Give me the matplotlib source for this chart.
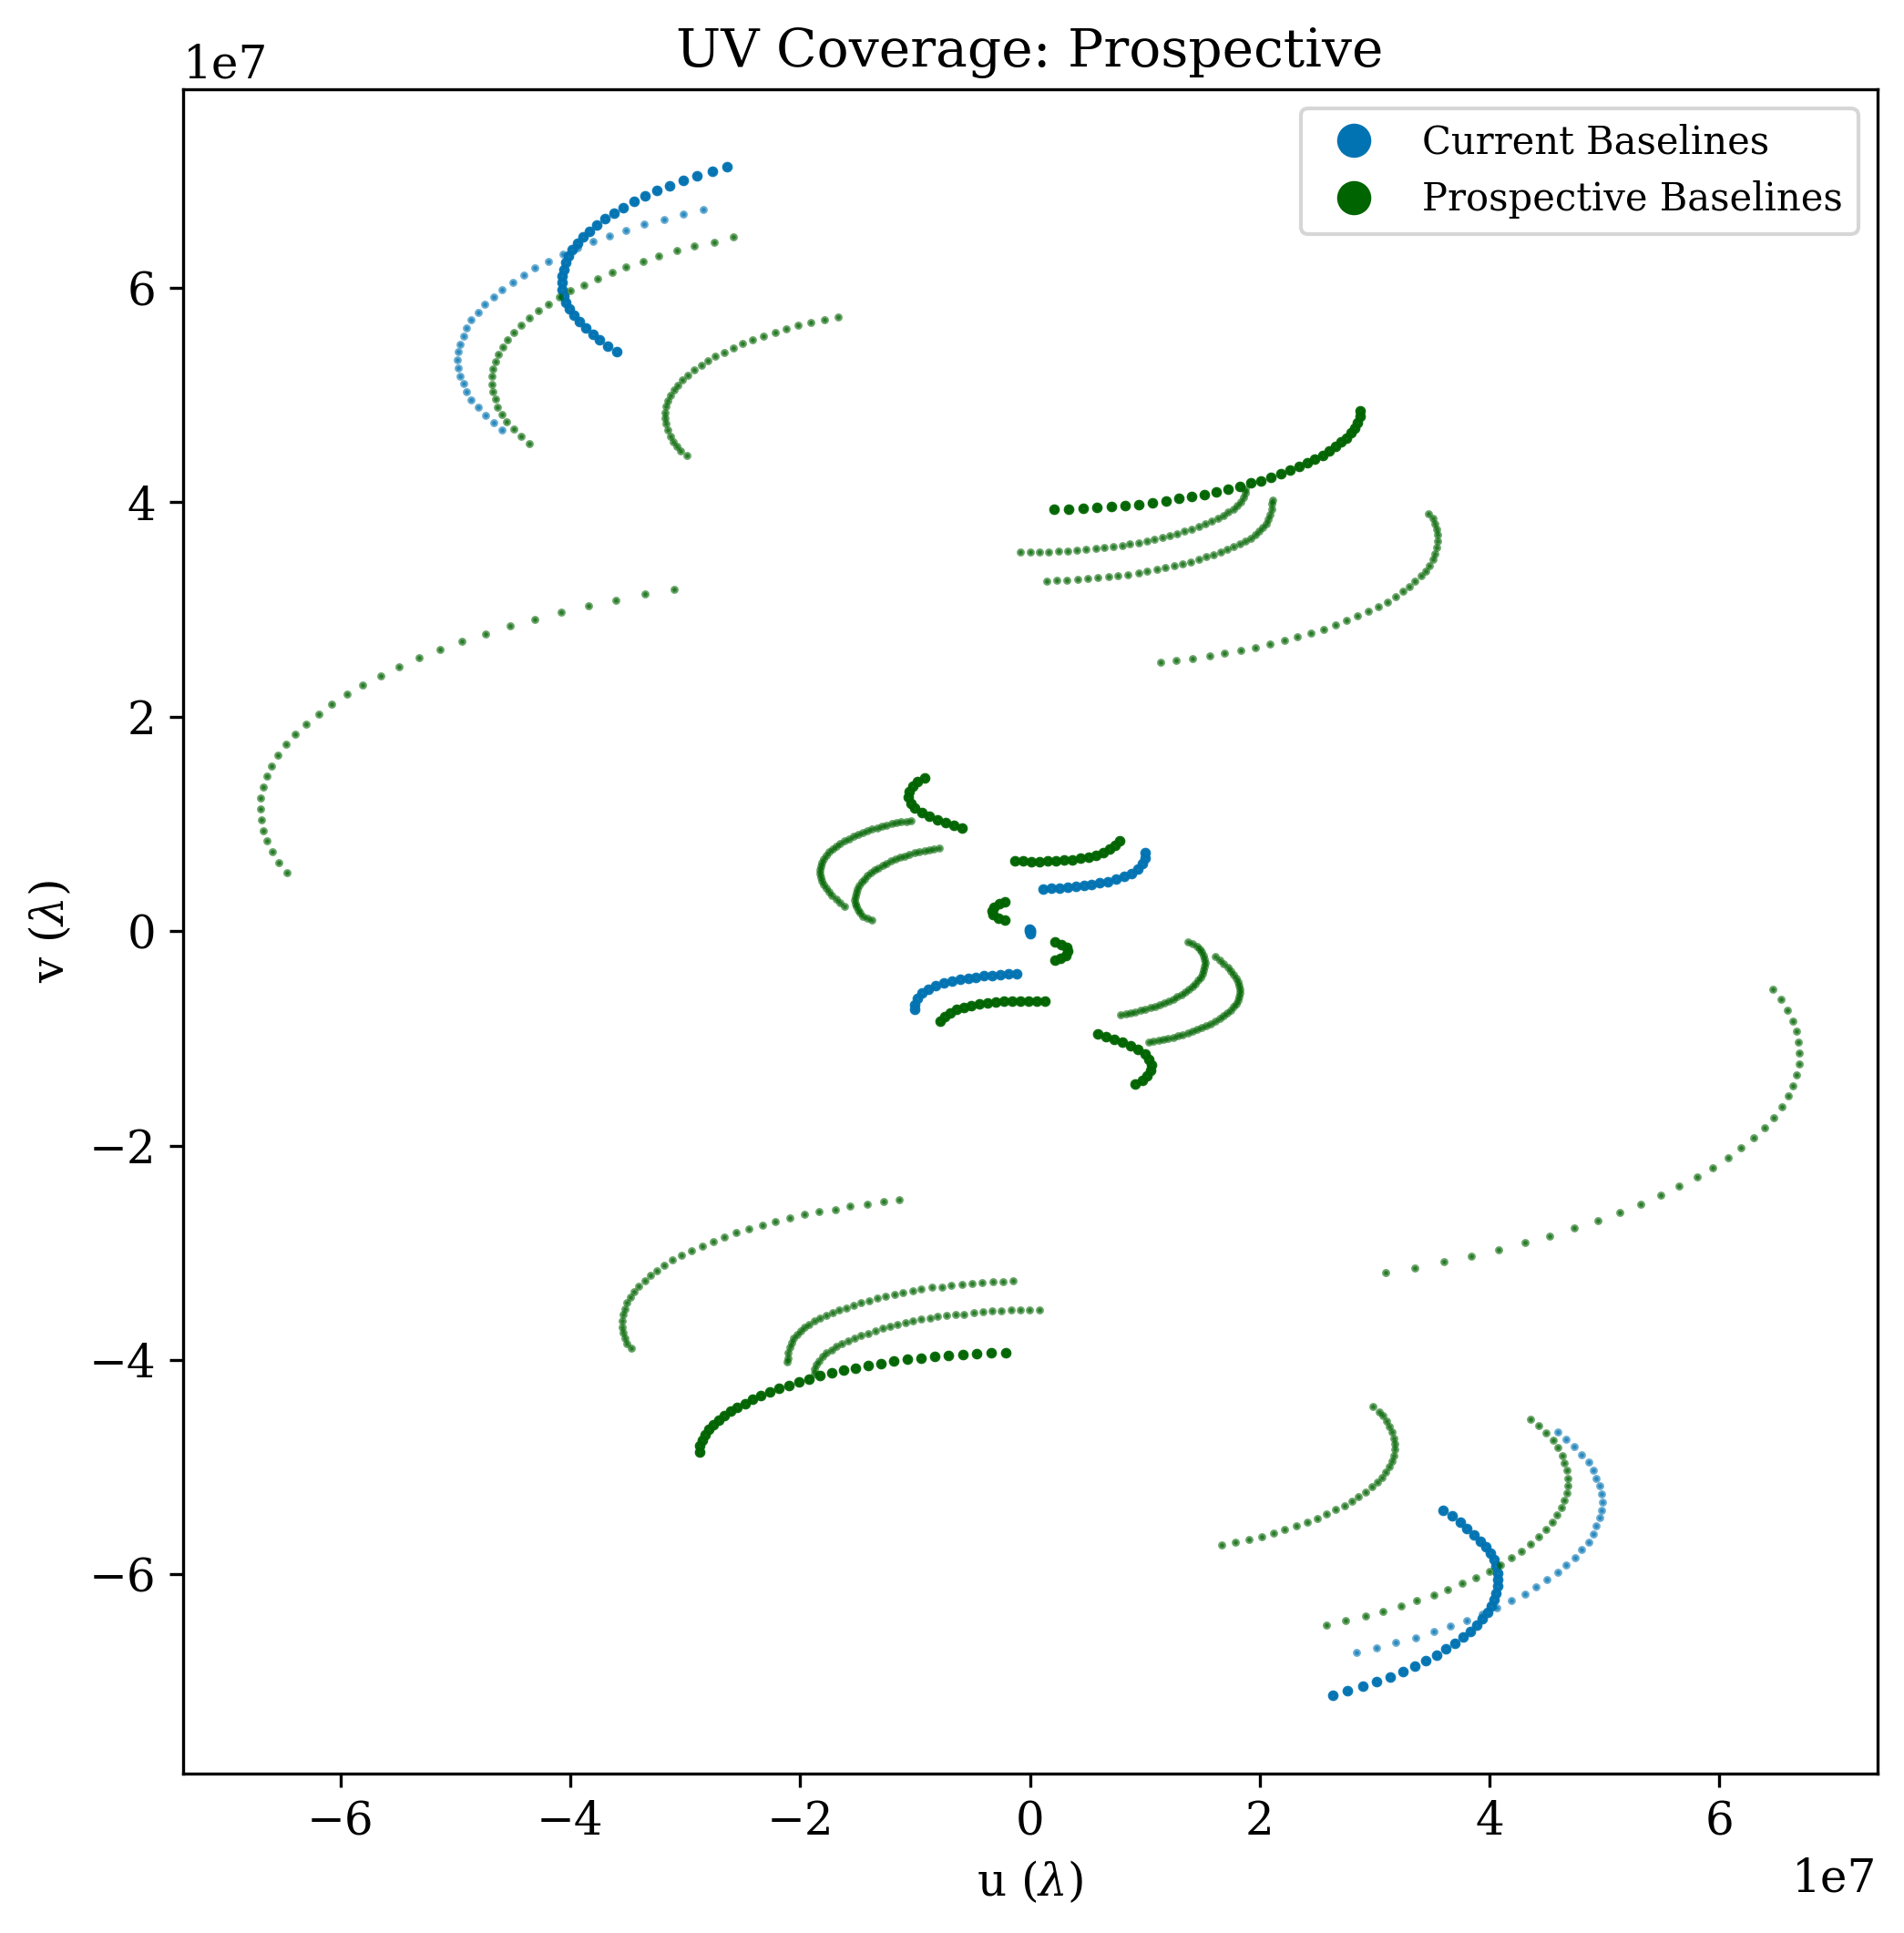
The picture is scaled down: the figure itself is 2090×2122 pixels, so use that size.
import numpy as np
import matplotlib
matplotlib.use("Agg")
import matplotlib.pyplot as plt
from matplotlib.lines import Line2D

# ---- data (u, v in units of 1e7 wavelengths); conjugate points (-u, -v) are also plotted ----
SCALE = 1e7

# Current baselines
cur_a_u = [-2.635, -2.765, -2.895, -3.014, -3.133, -3.243, -3.348, -3.447, -3.538, -3.620, -3.697, -3.770,
           -3.832, -3.889, -3.937, -3.980, -4.016, -4.039, -4.059, -4.070, -4.073, -4.068, -4.056, -4.036,
           -4.005, -3.965, -3.920, -3.866, -3.804, -3.742, -3.671, -3.592]
cur_a_v = [7.127, 7.085, 7.042, 7.000, 6.954, 6.906, 6.855, 6.804, 6.750, 6.697, 6.643, 6.586,
           6.529, 6.476, 6.416, 6.357, 6.297, 6.235, 6.173, 6.110, 6.048, 5.986, 5.924, 5.861,
           5.802, 5.745, 5.688, 5.629, 5.569, 5.513, 5.456, 5.402]

cur_b_u = [-2.845, -3.020, -3.187, -3.354, -3.513, -3.662, -3.804, -3.937, -4.064, -4.192, -4.305, -4.407,
           -4.503, -4.596, -4.667, -4.741, -4.803, -4.860, -4.900, -4.931, -4.956, -4.973, -4.982, -4.973,
           -4.956, -4.931, -4.900, -4.860, -4.803, -4.738, -4.667, -4.591]
cur_b_v = [6.728, 6.686, 6.637, 6.592, 6.533, 6.484, 6.431, 6.374, 6.312, 6.246, 6.187, 6.116,
           6.051, 5.980, 5.912, 5.844, 5.771, 5.703, 5.626, 5.550, 5.473, 5.403, 5.329, 5.252,
           5.176, 5.105, 5.031, 4.955, 4.887, 4.811, 4.743, 4.675]

cur_c_u = [0.114, 0.185, 0.255, 0.326, 0.397, 0.468, 0.538, 0.609, 0.680, 0.751, 0.821, 0.886,
           0.943, 0.983, 1.005, 1.005]
cur_c_v = [0.395, 0.398, 0.404, 0.410, 0.418, 0.427, 0.438, 0.449, 0.463, 0.483, 0.509, 0.540,
           0.579, 0.628, 0.684, 0.732]

cur_d_u = [-0.005, 0.0, 0.005]
cur_d_v = [0.02, 0.01, 0.0]

# Prospective baselines
pro_c_u = [-2.584, -2.751, -2.918, -3.073, -3.227, -3.368, -3.513, -3.637, -3.764, -3.883, -3.996, -4.098,
           -4.192, -4.279, -4.359, -4.430, -4.492, -4.543, -4.588, -4.622, -4.650, -4.670, -4.679, -4.679,
           -4.670, -4.653, -4.634, -4.591, -4.551, -4.495, -4.430, -4.359]
pro_c_v = [6.473, 6.428, 6.388, 6.346, 6.295, 6.244, 6.193, 6.142, 6.082, 6.028, 5.975, 5.912,
           5.844, 5.785, 5.717, 5.649, 5.581, 5.513, 5.445, 5.377, 5.309, 5.241, 5.173, 5.102,
           5.031, 4.963, 4.890, 4.819, 4.749, 4.680, 4.613, 4.550]

pro_d_u = [-1.672, -1.791, -1.905, -2.015, -2.120, -2.218, -2.315, -2.411, -2.499, -2.584, -2.663, -2.737,
           -2.799, -2.861, -2.924, -2.975, -3.023, -3.063, -3.097, -3.128, -3.150, -3.170, -3.178, -3.178,
           -3.170, -3.153, -3.130, -3.105, -3.073, -3.037, -2.988]
pro_d_v = [5.725, 5.700, 5.674, 5.649, 5.615, 5.581, 5.547, 5.513, 5.479, 5.439, 5.397, 5.360,
           5.318, 5.278, 5.233, 5.182, 5.139, 5.094, 5.046, 4.995, 4.944, 4.893, 4.836, 4.782,
           4.731, 4.675, 4.618, 4.567, 4.522, 4.482, 4.437]

pro_e_u = [-3.093, -3.353, -3.601, -3.844, -4.082, -4.312, -4.526, -4.740, -4.946, -5.136, -5.318, -5.490,
           -5.651, -5.810, -5.944, -6.079, -6.190, -6.301, -6.396, -6.475, -6.547, -6.602, -6.642, -6.673,
           -6.697, -6.697, -6.686, -6.673, -6.642, -6.594, -6.539, -6.467]
pro_e_v = [3.185, 3.142, 3.083, 3.032, 2.973, 2.905, 2.845, 2.769, 2.701, 2.624, 2.548, 2.463,
           2.378, 2.293, 2.208, 2.115, 2.024, 1.930, 1.837, 1.741, 1.639, 1.539, 1.443, 1.342,
           1.240, 1.138, 1.036, 0.934, 0.840, 0.738, 0.636, 0.543]

pro_f_u = [0.209, 0.336, 0.460, 0.584, 0.711, 0.830, 0.951, 1.068, 1.187, 1.297, 1.408, 1.519,
           1.622, 1.723, 1.831, 1.921, 2.011, 2.098, 2.183, 2.264, 2.344, 2.413, 2.481, 2.547,
           2.605, 2.661, 2.708, 2.754, 2.793, 2.825, 2.851, 2.870, 2.877]
pro_f_v = [3.933, 3.933, 3.941, 3.952, 3.961, 3.967, 3.981, 3.995, 4.009, 4.035, 4.052, 4.074,
           4.097, 4.120, 4.148, 4.179, 4.201, 4.235, 4.267, 4.298, 4.335, 4.369, 4.405, 4.439,
           4.479, 4.522, 4.561, 4.601, 4.646, 4.694, 4.745, 4.799, 4.856]

pro_g_u = [-0.082, 0.003, 0.085, 0.164, 0.251, 0.330, 0.412, 0.491, 0.571, 0.650, 0.729, 0.804,
           0.872, 0.944, 1.015, 1.081, 1.153, 1.218, 1.284, 1.347, 1.411, 1.472, 1.530, 1.583,
           1.636, 1.683, 1.728, 1.768, 1.802, 1.834, 1.860, 1.874, 1.874]
pro_g_v = [3.536, 3.536, 3.536, 3.536, 3.545, 3.545, 3.553, 3.562, 3.573, 3.579, 3.587, 3.596,
           3.613, 3.621, 3.638, 3.655, 3.672, 3.686, 3.703, 3.729, 3.751, 3.774, 3.797, 3.822,
           3.850, 3.876, 3.907, 3.935, 3.969, 4.006, 4.046, 4.088, 4.125]

pro_h_u = [0.143, 0.235, 0.323, 0.420, 0.507, 0.594, 0.682, 0.769, 0.856, 0.944, 1.022, 1.102,
           1.181, 1.256, 1.327, 1.398, 1.469, 1.535, 1.596, 1.657, 1.715, 1.773, 1.826, 1.874,
           1.921, 1.961, 1.997, 2.029, 2.056, 2.074, 2.090, 2.101, 2.106, 2.109]
pro_h_v = [3.262, 3.270, 3.270, 3.278, 3.287, 3.298, 3.307, 3.316, 3.324, 3.341, 3.355, 3.372,
           3.389, 3.406, 3.423, 3.446, 3.468, 3.494, 3.514, 3.536, 3.559, 3.585, 3.610, 3.638,
           3.666, 3.698, 3.729, 3.763, 3.800, 3.842, 3.885, 3.933, 3.984, 4.018]

pro_i_u = [1.134, 1.274, 1.419, 1.562, 1.696, 1.834, 1.966, 2.090, 2.212, 2.330, 2.449, 2.560,
           2.663, 2.758, 2.852, 2.948, 3.031, 3.110, 3.181, 3.247, 3.303, 3.353, 3.406, 3.446,
           3.480, 3.507, 3.527, 3.543, 3.551, 3.551, 3.543, 3.525, 3.507, 3.472]
pro_i_v = [2.505, 2.525, 2.545, 2.568, 2.596, 2.619, 2.644, 2.678, 2.710, 2.743, 2.777, 2.811,
           2.856, 2.896, 2.939, 2.981, 3.026, 3.069, 3.117, 3.168, 3.211, 3.262, 3.313, 3.360,
           3.411, 3.468, 3.522, 3.579, 3.638, 3.695, 3.748, 3.800, 3.848, 3.893]

pro_j_u = [-0.919, -0.976, -1.018, -1.047, -1.056, -1.038, -0.999, -0.942, -0.877, -0.806, -0.736, -0.665, -0.594]
pro_j_v = [1.429, 1.392, 1.350, 1.299, 1.251, 1.194, 1.146, 1.106, 1.072, 1.038, 1.010, 0.984, 0.962]

pro_k_u = [-1.033, -1.075, -1.118, -1.160, -1.202, -1.245, -1.287, -1.330, -1.373, -1.415, -1.458, -1.497,
           -1.537, -1.576, -1.613, -1.650, -1.684, -1.718, -1.746, -1.772, -1.794, -1.811, -1.822, -1.828,
           -1.828, -1.822, -1.811, -1.794, -1.775, -1.749, -1.721, -1.687, -1.650, -1.613]
pro_k_v = [1.032, 1.024, 1.018, 1.010, 1.001, 0.990, 0.979, 0.965, 0.950, 0.936, 0.919, 0.902,
           0.882, 0.862, 0.840, 0.817, 0.792, 0.766, 0.738, 0.707, 0.676, 0.642, 0.608, 0.573,
           0.539, 0.506, 0.472, 0.438, 0.404, 0.370, 0.336, 0.302, 0.268, 0.234]

pro_l_u = [-0.792, -0.835, -0.877, -0.919, -0.962, -1.004, -1.047, -1.089, -1.129, -1.168, -1.208, -1.245,
           -1.282, -1.319, -1.353, -1.384, -1.415, -1.440, -1.463, -1.483, -1.500, -1.511, -1.519, -1.523,
           -1.519, -1.511, -1.497, -1.477, -1.452, -1.418, -1.378]
pro_l_v = [0.777, 0.769, 0.761, 0.752, 0.741, 0.730, 0.715, 0.701, 0.687, 0.670, 0.653, 0.633,
           0.613, 0.591, 0.568, 0.543, 0.517, 0.489, 0.460, 0.429, 0.395, 0.361, 0.327, 0.293,
           0.259, 0.229, 0.197, 0.169, 0.140, 0.118, 0.104]

pro_m_u = [-0.127, -0.056, 0.015, 0.085, 0.156, 0.227, 0.298, 0.368, 0.439, 0.510, 0.575, 0.637,
           0.694, 0.745, 0.779]
pro_m_v = [0.656, 0.653, 0.650, 0.650, 0.653, 0.656, 0.662, 0.667, 0.679, 0.693, 0.710, 0.732,
           0.764, 0.798, 0.840]

pro_o_u = [-0.217, -0.269, -0.311, -0.331, -0.319, -0.274, -0.217]
pro_o_v = [0.274, 0.254, 0.225, 0.189, 0.152, 0.123, 0.104]

# track groups: (u, v, dense) -- dense tracks are coincident baselines drawn solid
current_tracks = [(cur_a_u, cur_a_v, True), (cur_b_u, cur_b_v, False),
                  (cur_c_u, cur_c_v, True), (cur_d_u, cur_d_v, True)]
prospective_tracks = [(pro_c_u, pro_c_v, False), (pro_d_u, pro_d_v, False), (pro_e_u, pro_e_v, False),
                      (pro_f_u, pro_f_v, True), (pro_g_u, pro_g_v, False), (pro_h_u, pro_h_v, False),
                      (pro_i_u, pro_i_v, False), (pro_j_u, pro_j_v, True), (pro_k_u, pro_k_v, False),
                      (pro_l_u, pro_l_v, False), (pro_m_u, pro_m_v, True), (pro_o_u, pro_o_v, True)]

CUR_COLOR = "#0173B2"
PRO_COLOR = "darkgreen"

plt.rcParams["font.family"] = ["DejaVu Serif"]
plt.rcParams["mathtext.fontset"] = "dejavuserif"

fig = plt.figure(figsize=(2090 / 300, 2122 / 300), dpi=300)
ax = fig.add_axes([200.5 / 2090, 1 - 1946.5 / 2122, 1860 / 2090, 1848.5 / 2122])


def draw(tracks, color):
    for u, v, dense in tracks:
        uu = np.asarray(u) * SCALE
        vv = np.asarray(v) * SCALE
        U = np.concatenate([uu, -uu])
        V = np.concatenate([vv, -vv])
        if dense:
            ax.plot(U, V, "o", color=color, ms=1.8, mew=1.0, alpha=0.95, linestyle="none")
        else:
            ax.plot(U, V, "o", color=color, ms=1.1, mew=1.0, alpha=0.6, linestyle="none")


draw(current_tracks, CUR_COLOR)
draw(prospective_tracks, PRO_COLOR)

ax.set_xlim(-7.373e7, 7.373e7)
ax.set_ylim(-7.853e7, 7.853e7)
ax.set_xticks(np.arange(-6, 7, 2) * SCALE)
ax.set_yticks(np.arange(-6, 7, 2) * SCALE)
ax.tick_params(labelsize=12)
ax.xaxis.get_offset_text().set_fontsize(12)
ax.yaxis.get_offset_text().set_fontsize(12)
ax.set_xlabel(r"u ($\lambda$)", fontsize=12)
ax.set_ylabel(r"v ($\lambda$)", fontsize=12)
ax.set_title("UV Coverage: Prospective", fontsize=14)

handles = [Line2D([0], [0], marker="o", linestyle="none", markersize=9, mew=0, color=CUR_COLOR,
                  label="Current Baselines"),
           Line2D([0], [0], marker="o", linestyle="none", markersize=9, mew=0, color=PRO_COLOR,
                  label="Prospective Baselines")]
ax.legend(handles=handles, loc="upper right", fontsize=10)

fig.savefig("out.png", dpi=300)
